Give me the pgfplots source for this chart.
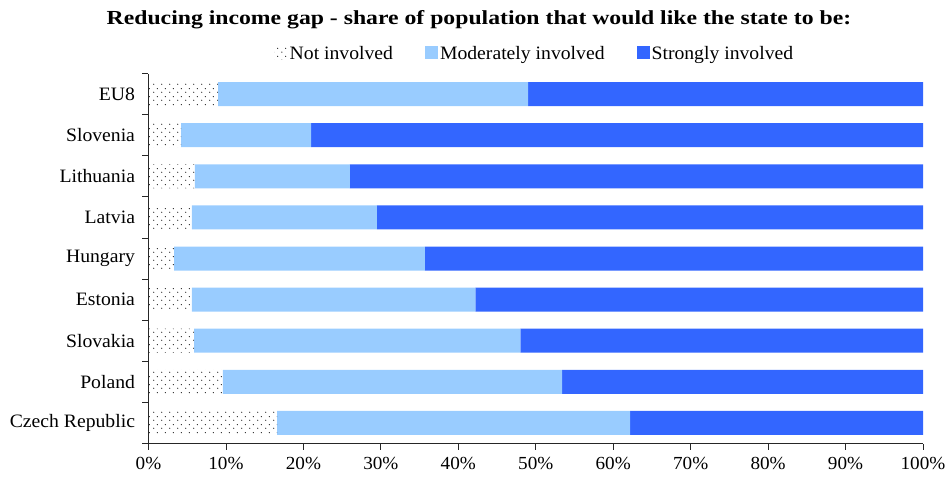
\documentclass[border=0pt]{standalone}
\usepackage{fontspec}
\setmainfont{Liberation Serif}
\newfontfamily\reffont[FakeStretch=1.04]{Liberation Serif}
\newfontfamily\titlefont[FakeStretch=1.19]{Liberation Serif}
\usepackage{pgfplots}
\pgfplotsset{compat=1.18}
\usetikzlibrary{patterns}
\pgfdeclarepatternformonly{exdots}{\pgfqpoint{0bp}{0bp}}{\pgfqpoint{8bp}{8bp}}{\pgfqpoint{8bp}{8bp}}{%
  \pgfpathcircle{\pgfqpoint{2bp}{2bp}}{0.7bp}%
  \pgfpathcircle{\pgfqpoint{6bp}{6bp}}{0.7bp}%
  \pgfusepath{fill}}
\definecolor{modblue}{RGB}{153,204,255}
\definecolor{strblue}{RGB}{51,102,255}
\begin{document}
\begin{tikzpicture}
\path[use as bounding box] (-148.5bp,-34.5bp) rectangle (797.5bp,443.5bp);
\begin{axis}[
  scale only axis, width=774.5bp, height=370bp,
  xbar stacked, bar width=24bp,
  xmin=0, xmax=100, ymin=-0.5, ymax=8.5,
  axis lines*=left,
  axis line style={line width=0.8bp, black!85},
  tick align=outside,
  major tick length=6bp,
  tick style={line width=0.8bp, black!85},
  xtick={0,10,...,100},
  xticklabel={\pgfmathprintnumber{\tick}\%},
  xticklabel style={font=\reffont\fontsize{18.5}{20}\selectfont, yshift=-4bp},
  ytick={-0.5,0.5,...,8.5},
  yticklabels={},
  extra y ticks={0,1,2,3,4,5,6,7,8},
  extra y tick labels={Czech Republic, Poland, Slovakia, Estonia, Hungary, Latvia, Lithuania, Slovenia, EU8},
  extra y tick style={tick style={draw=none}, yticklabel style={font=\reffont\fontsize{19}{20}\selectfont, xshift=-4bp}},
  /pgf/number format/assume math mode=true,
  title={Reducing income gap - share of population that would like the state to be:},
  title style={at={(0.4267,1.1176)}, anchor=base, font=\titlefont\bfseries\fontsize{20}{22}\selectfont},
  legend style={at={(0.499,1.0527)}, anchor=center, draw=none, legend columns=3,
    font=\reffont\fontsize{19}{20}\selectfont,
    /tikz/every even column/.append style={column sep=30bp}},
  legend image code/.code={\fill[#1] (0bp,-5bp) rectangle (13bp,8bp);},
  clip=false,
]
\addplot[draw=none, pattern=exdots, pattern color=black!85] coordinates {
(16.6,0) (9.6,1) (5.9,2) (5.6,3) (3.3,4) (5.6,5) (6.0,6) (4.2,7) (9.0,8)};
\addplot[draw=none, fill=modblue] coordinates {
(45.6,0) (43.8,1) (42.1,2) (36.6,3) (32.4,4) (23.9,5) (20.0,6) (16.8,7) (40.0,8)};
\addplot[draw=none, fill=strblue] coordinates {
(37.8,0) (46.6,1) (52.0,2) (57.8,3) (64.3,4) (70.5,5) (74.0,6) (79.0,7) (51.0,8)};
\legend{Not involved, Moderately involved, Strongly involved}
\end{axis}
\end{tikzpicture}
\end{document}
